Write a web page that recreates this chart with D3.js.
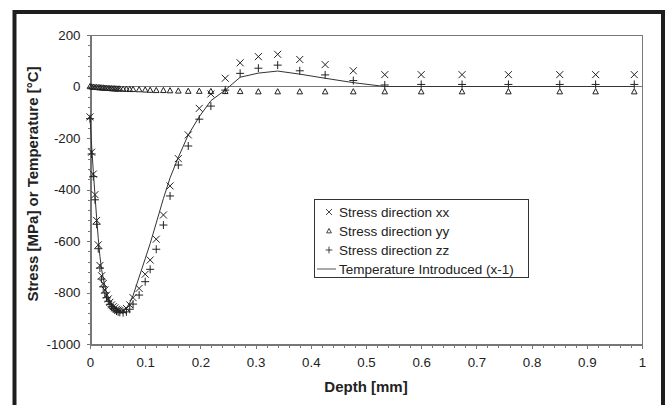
<!DOCTYPE html>
<html lang="en">
<head>
    <meta charset="utf-8"/>
    <style>
        body { margin: 0; background: #fff; }
        svg { display: block; font-family: "Liberation Sans", Arial, sans-serif; }
        .axis path, .axis line { stroke: #777; shape-rendering: crispEdges; }
        .axis text { fill: #222; font-size: 13.3px; }
        path.mark { fill: none; stroke: #222; stroke-width: 1; }
        path.temp { fill: none; stroke: #333; stroke-width: 1; }
    </style>
    <script src="https://d3js.org/d3.v7.min.js" charset="utf-8"></script>
</head>
<body>
<svg id="chart" width="666" height="405"></svg>
<script>
    // depth of the sample points [mm]
    var depth = [0, 0.003, 0.006, 0.009, 0.012, 0.015, 0.018, 0.021, 0.024, 0.027,
        0.030, 0.033, 0.036, 0.039, 0.042, 0.045, 0.048, 0.051, 0.054, 0.060,
        0.066, 0.072, 0.078, 0.089, 0.100, 0.109, 0.120, 0.133, 0.145, 0.160,
        0.178, 0.198, 0.219, 0.245, 0.272, 0.305, 0.340, 0.380, 0.426, 0.477,
        0.534, 0.600, 0.674, 0.758, 0.851, 0.916, 0.986];
    var stressXX = [-118, -255, -340, -420, -520, -615, -695, -735, -765, -790,
        -810, -825, -838, -848, -855, -860, -865, -868, -870, -870,
        -862, -848, -820, -784, -729, -674, -593, -499, -386, -280,
        -188, -85, -29, 32, 92, 116, 125, 105, 85, 61,
        46, 46, 46, 46, 46, 46, 46];
    var stressYY = [0, -1, -2, -3, -3, -4, -4, -5, -5, -6,
        -6, -7, -7, -8, -8, -8, -9, -9, -9, -10,
        -10, -11, -11, -12, -13, -14, -15, -15, -16, -17,
        -18, -18, -19, -19, -19, -20, -20, -20, -20, -20,
        -20, -20, -20, -20, -20, -20, -20];
    var stressZZ = [-125, -262, -350, -440, -535, -630, -705, -748, -778, -802,
        -820, -834, -846, -855, -862, -868, -872, -875, -877, -878,
        -875, -865, -845, -810, -758, -710, -632, -538, -425, -305,
        -231, -127, -76, -14, 51, 71, 83, 61, 45, 23,
        6, 8, 8, 8, 8, 8, 8];
    var temperature = [-120, -230, -330, -420, -510, -590, -660, -710, -745, -775,
        -800, -818, -832, -845, -853, -860, -865, -868, -870, -868,
        -860, -840, -812, -740, -669, -610, -530, -435, -355, -275,
        -188, -117, -55, -14, 36, 52, 60, 48, 32, 15,
        0, 0, 0, 0, 0, 0, 0];

    var xTicks = [0, 0.1, 0.2, 0.3, 0.4, 0.5, 0.6, 0.7, 0.8, 0.9, 1];
    var yTicks = [200, 0, -200, -400, -600, -800, -1000];
    var legendLabels = ['Stress direction xx', 'Stress direction yy',
        'Stress direction zz', 'Temperature Introduced (x-1)'];

    var svg = d3.select('#chart');
    var plotLeft = 90, plotRight = 642, plotTop = 35, plotBottom = 344;

    var x = d3.scaleLinear().domain([0, 1]).range([plotLeft, plotRight]);
    var y = d3.scaleLinear().domain([-1000, 200]).range([plotBottom, plotTop]);

    // outer frame
    svg.append('rect')
        .attr('x', 14.5).attr('y', 12)
        .attr('width', 648.5).attr('height', 420)
        .attr('fill', 'none').attr('stroke', '#1e1e1e').attr('stroke-width', 4);

    // plot box
    svg.append('rect')
        .attr('x', plotLeft + 0.5).attr('y', plotTop + 0.5)
        .attr('width', plotRight - plotLeft).attr('height', plotBottom - plotTop)
        .attr('fill', 'none').attr('stroke', '#777')
        .attr('shape-rendering', 'crispEdges');

    // zero line
    svg.append('line')
        .attr('x1', plotLeft).attr('x2', plotRight)
        .attr('y1', Math.round(y(0)) + 0.5).attr('y2', Math.round(y(0)) + 0.5)
        .attr('stroke', '#777').attr('shape-rendering', 'crispEdges');

    // minor ticks
    svg.append('g').attr('class', 'axis')
        .attr('transform', 'translate(' + (plotLeft + 0.5) + ',0)')
        .call(d3.axisLeft(y).tickValues(d3.range(-1000, 201, 40)).tickSize(3).tickFormat(''))
        .call(function(g) { g.select('.domain').remove(); });
    svg.append('g').attr('class', 'axis')
        .attr('transform', 'translate(0,' + (plotBottom + 0.5) + ')')
        .call(d3.axisBottom(x).tickValues(d3.range(0, 1.001, 0.02)).tickSize(3).tickFormat(''))
        .call(function(g) { g.select('.domain').remove(); });

    // major axes
    svg.append('g').attr('class', 'axis')
        .attr('transform', 'translate(' + (plotLeft + 0.5) + ',0)')
        .call(d3.axisLeft(y).tickValues(yTicks).tickSize(4).tickSizeOuter(0).tickPadding(6)
            .tickFormat(function(d) { return String(d); }));
    svg.append('g').attr('class', 'axis')
        .attr('transform', 'translate(0,' + (plotBottom + 0.5) + ')')
        .call(d3.axisBottom(x).tickValues(xTicks).tickSize(4).tickSizeOuter(0).tickPadding(9)
            .tickFormat(function(d) { return String(d); }));

    // axis titles
    svg.append('text')
        .attr('x', (plotLeft + plotRight) / 2).attr('y', 392)
        .attr('text-anchor', 'middle')
        .attr('font-size', '15px').attr('font-weight', 'bold').attr('fill', '#222')
        .text('Depth [mm]');
    svg.append('text')
        .attr('transform', 'translate(38,184) rotate(-90)')
        .attr('text-anchor', 'middle')
        .attr('font-size', '15px').attr('font-weight', 'bold').attr('fill', '#222')
        .text('Stress [MPa] or Temperature [°C]');

    var crossPath = 'M-3.5,-3.5L3.5,3.5M-3.5,3.5L3.5,-3.5';
    var plusPath = 'M-4,0H4M0,-4V4';
    var triPath = 'M0,-3L2.8,2.2H-2.8Z';

    // temperature line
    var line = d3.line()
        .x(function(d, i) { return x(depth[i]); })
        .y(function(d) { return y(d); });
    svg.append('path').attr('class', 'temp').attr('d', line(temperature));

    function drawMarks(values, shape) {
        svg.append('g').selectAll('path')
            .data(values)
            .enter().append('path')
            .attr('class', 'mark')
            .attr('d', shape)
            .attr('transform', function(d, i) {
                return 'translate(' + x(depth[i]) + ',' + y(d) + ')';
            });
    }
    drawMarks(stressYY, triPath);
    drawMarks(stressZZ, plusPath);
    drawMarks(stressXX, crossPath);

    // legend
    var lg = svg.append('g').attr('transform', 'translate(314,199)');
    lg.append('rect')
        .attr('x', 0.5).attr('y', 0.5).attr('width', 214).attr('height', 78)
        .attr('fill', '#fff').attr('stroke', '#333');
    var shapes = [crossPath, triPath, plusPath, null];
    legendLabels.forEach(function(label, i) {
        var cy = 13 + i * 19;
        if (shapes[i]) {
            lg.append('path').attr('class', 'mark')
                .attr('d', shapes[i])
                .attr('transform', 'translate(15,' + cy + ') scale(0.85)');
        } else {
            lg.append('line')
                .attr('x1', 3).attr('x2', 22).attr('y1', cy).attr('y2', cy)
                .attr('stroke', '#555');
        }
        lg.append('text')
            .attr('x', 25).attr('y', cy + 4.8)
            .attr('font-size', '13.5px').attr('fill', '#222')
            .text(label);
    });
</script>
</body>
</html>
